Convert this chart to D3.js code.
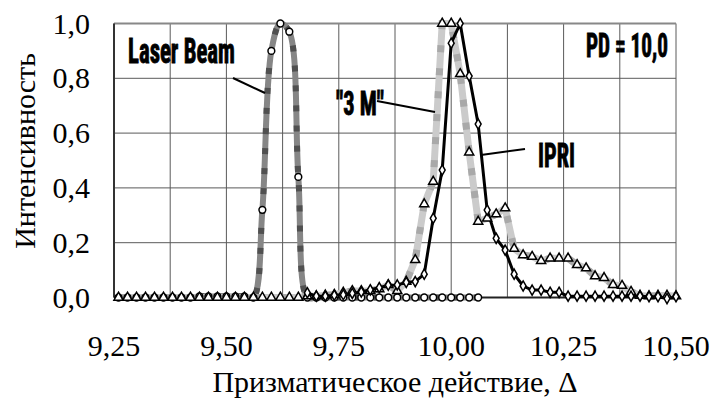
<!DOCTYPE html>
<html>
<head>
<meta charset="utf-8">
<script src="https://cdn.jsdelivr.net/npm/d3@7.9.0/dist/d3.min.js"></script>
<style>
  body { margin: 0; background: #fff; }
  svg { display: block; }
</style>
</head>
<body>
<svg id="chart" width="711" height="403"></svg>
<script>
// prism dioptre values (x) shared by all series
const prism = [9.26, 9.28, 9.30, 9.32, 9.34, 9.36, 9.38, 9.40, 9.42, 9.44,
  9.46, 9.48, 9.50, 9.52, 9.54, 9.56, 9.58, 9.60, 9.62, 9.64,
  9.66, 9.68, 9.70, 9.72, 9.74, 9.76, 9.78, 9.80, 9.82, 9.84,
  9.86, 9.88, 9.90, 9.92, 9.94, 9.96, 9.98, 10.00, 10.02, 10.04,
  10.06, 10.08, 10.10, 10.12, 10.14, 10.16, 10.18, 10.20, 10.22, 10.24,
  10.26, 10.28, 10.30, 10.32, 10.34, 10.36, 10.38, 10.40, 10.42, 10.44,
  10.46, 10.48, 10.50];

// Laser Beam (circles)
const laserBeam = [0, 0, 0, 0, 0, 0, 0, 0, 0, 0.004,
  0.004, 0.004, 0.004, 0.004, 0.004, 0, 0.32, 0.90, 1.00, 0.97,
  0.44, 0, 0, 0, 0, 0, 0, 0, 0, 0,
  0, 0, 0, 0, 0, 0, 0, 0, 0, 0,
  0, null, null, null, null, null, null, null, null, null,
  null, null, null, null, null, null, null, null, null, null,
  null, null, null];

// "3 M" (triangles)
const threeM = [0, 0, 0, 0, 0, 0, 0, 0, 0, 0,
  0, 0, 0, 0, 0, 0, 0, 0, 0, 0,
  0, 0.005, 0.005, 0.008, 0.01, 0.018, 0.024, 0.024, 0.024, 0.031,
  0.046, 0.024, 0.058, 0.137, 0.341, 0.423, 1.00, 1.00, 0.816, 0.53,
  0.277, 0.289, 0.304, 0.326, 0.178, 0.155, 0.149, 0.134, 0.143, 0.143,
  0.143, 0.119, 0.107, 0.078, 0.072, 0.046, 0.043, 0.021, 0.007, 0.005,
  0.007, 0.007, 0.005];

// IPRI (diamonds)
const ipri = [null, null, null, null, null, null, null, null, null, null,
  null, null, null, null, null, null, null, null, null, null,
  null, 0.017, 0.005, 0.005, 0.008, 0.01, 0.015, 0.02, 0.028, 0.036,
  0.045, 0.046, 0.055, 0.058, 0.085, 0.289, 0.465, 0.928, 1.00, 0.808,
  0.633, 0.319, 0.216, 0.173, 0.085, 0.042, 0.027, 0.027, 0.019, 0.019,
  0.005, 0.005, 0.005, 0.005, 0.005, 0.005, 0.005, 0.005, 0.005, 0.003,
  0.003, -0.004, 0.003];

const xTicks = [9.25, 9.50, 9.75, 10.00, 10.25, 10.50];
const yTicks = [0, 0.2, 0.4, 0.6, 0.8, 1.0];

const SERIF = "'Liberation Serif'";
const TAG = "'Roboto Condensed'";

const width = 711, height = 403;
const margin = { top: 23.5, right: 35, bottom: 105.5, left: 114 };

const svg = d3.select("#chart");
const x = d3.scaleLinear().domain([9.25, 10.5]).range([margin.left, width - margin.right]);
const y = d3.scaleLinear().domain([0, 1]).range([height - margin.bottom, margin.top]);

const ru = d3.formatLocale({ decimal: ",", thousands: " ", grouping: [3], currency: ["", ""] });
const fx = ru.format(".2f"), fy = ru.format(".1f");

// grid
const grid = svg.append("g").attr("stroke", "#5a5a5a").attr("stroke-width", 1);
grid.selectAll(".vx")
  .data(d3.range(0, 11).map(i => 9.25 + i * 0.125))
  .enter().append("line")
  .attr("x1", d => x(d)).attr("x2", d => x(d))
  .attr("y1", y(0)).attr("y2", y(1));
grid.selectAll(".hy")
  .data(yTicks)
  .enter().append("line")
  .attr("x1", x(9.25)).attr("x2", x(10.5))
  .attr("y1", d => y(d)).attr("y2", d => y(d));
svg.append("line").attr("x1", x(9.25)).attr("x2", x(10.5))
  .attr("y1", y(1)).attr("y2", y(1)).attr("stroke", "#888").attr("stroke-width", 2);
svg.append("line").attr("x1", x(9.25)).attr("x2", x(9.25))
  .attr("y1", y(0)).attr("y2", y(1)).attr("stroke", "#333").attr("stroke-width", 2);
svg.append("line").attr("x1", x(9.25)).attr("x2", x(10.5))
  .attr("y1", y(0)).attr("y2", y(0)).attr("stroke", "#222").attr("stroke-width", 2);

// tick labels, positioned by the scales
svg.append("g").selectAll("text")
  .data(xTicks).enter().append("text")
  .attr("x", d => x(d)).attr("y", 356)
  .attr("text-anchor", "middle")
  .style("font-family", SERIF).style("font-size", "30px")
  .text(fx);
svg.append("g").selectAll("text")
  .data(yTicks).enter().append("text")
  .attr("x", 90).attr("y", d => y(d) + 10)
  .attr("text-anchor", "end")
  .style("font-family", SERIF).style("font-size", "30px")
  .text(fy);

svg.append("text")
  .attr("x", (x(9.25) + x(10.5)) / 2).attr("y", 392)
  .attr("text-anchor", "middle")
  .style("font-family", SERIF).style("font-size", "30px")
  .text("Призматическое действие, Δ");

svg.append("text")
  .attr("x", 0).attr("y", 0)
  .attr("transform", "translate(35,151) rotate(-90)")
  .attr("text-anchor", "middle")
  .style("font-family", SERIF).style("font-size", "30px")
  .text("Интенсивность");

// series lines
function series(vals) {
  return prism.map((p, i) => ({ x: p, y: vals[i] })).filter(d => d.y !== null);
}
const laserData = series(laserBeam), mData = series(threeM), ipriData = series(ipri);

const lineSmooth = d3.line().x(d => x(d.x)).y(d => y(d.y)).curve(d3.curveCatmullRom.alpha(0.5));
const lineStraight = d3.line().x(d => x(d.x)).y(d => y(d.y));

// Laser Beam: grey with darker dashes
svg.append("path").attr("d", lineSmooth(laserData))
  .attr("fill", "none").attr("stroke", "#868686").attr("stroke-width", 6);
svg.append("path").attr("d", lineSmooth(laserData))
  .attr("fill", "none").attr("stroke", "#505050").attr("stroke-width", 6)
  .attr("stroke-dasharray", "6,14");

// "3 M": light grey with slightly darker dashes
svg.append("path").attr("d", lineStraight(mData))
  .attr("fill", "none").attr("stroke", "#cbcbcb").attr("stroke-width", 7)
  .attr("stroke-linejoin", "round");
svg.append("path").attr("d", lineStraight(mData))
  .attr("fill", "none").attr("stroke", "#a9a9a9").attr("stroke-width", 7)
  .attr("stroke-dasharray", "7,16");

// IPRI: black solid
svg.append("path").attr("d", lineStraight(ipriData))
  .attr("fill", "none").attr("stroke", "#000").attr("stroke-width", 3)
  .attr("stroke-linejoin", "round");

// markers
function markers(data, type, size) {
  svg.append("g").selectAll("path")
    .data(data).enter().append("path")
    .attr("transform", d => `translate(${x(d.x)},${y(d.y)})`)
    .attr("d", d3.symbol().type(type).size(size))
    .attr("fill", "#fff").attr("stroke", "#000").attr("stroke-width", 1.5);
}
markers(laserData, d3.symbolCircle, 36);
markers(mData, d3.symbolTriangle, 36);
markers(ipriData, d3.symbolDiamond, 30);

// annotations: heavy condensed text squeezed to the width seen in the picture
function label(txt, x0, x1, base, size) {
  const t = svg.append("text")
    .attr("x", 0).attr("y", 0)
    .style("font-family", TAG).style("font-weight", "bold")
    .style("font-size", size + "px")
    .attr("stroke", "#000").attr("stroke-width", 0.9)
    .text(txt);
  const w = t.node().getComputedTextLength() || (x1 - x0);
  t.attr("transform", `translate(${x0},${base}) scale(${(x1 - x0) / w},1)`);
}
label("Laser Beam", 128, 235, 63, 35);
label("\"3 M\"", 336, 384, 115, 33);
label("IPRI", 538, 575, 167, 34);
label("PD = 10,0", 586, 668, 57, 33);

const leaders = [
  [233, 78, 265, 93],
  [377, 101, 435, 112],
  [481, 155, 525, 149]
];
svg.append("g").selectAll("line").data(leaders).enter().append("line")
  .attr("x1", d => d[0]).attr("y1", d => d[1])
  .attr("x2", d => d[2]).attr("y2", d => d[3])
  .attr("stroke", "#000").attr("stroke-width", 2);
</script>
</body>
</html>
